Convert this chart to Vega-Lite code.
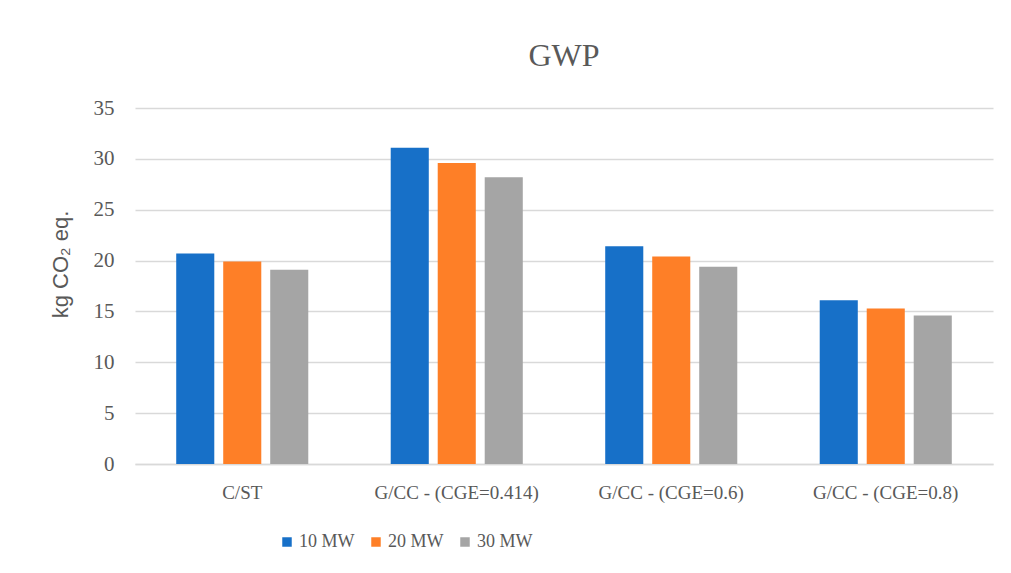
{
  "$schema": "https://vega.github.io/schema/vega-lite/v6.json",
  "width": 858,
  "height": 356,
  "autosize": {"type": "none"},
  "padding": {"left": 135, "top": 108, "right": 18, "bottom": 109},
  "background": "white",
  "title": {
    "text": "GWP",
    "font": "Liberation Serif",
    "fontSize": 32,
    "fontWeight": "normal",
    "color": "#595959",
    "anchor": "middle",
    "offset": 24
  },
  "data": {
    "values": [
      {"category": "C/ST", "series": "10 MW", "value": 20.7},
      {"category": "C/ST", "series": "20 MW", "value": 19.9},
      {"category": "C/ST", "series": "30 MW", "value": 19.1},
      {"category": "G/CC - (CGE=0.414)", "series": "10 MW", "value": 31.1},
      {"category": "G/CC - (CGE=0.414)", "series": "20 MW", "value": 29.6},
      {"category": "G/CC - (CGE=0.414)", "series": "30 MW", "value": 28.2},
      {"category": "G/CC - (CGE=0.6)", "series": "10 MW", "value": 21.4},
      {"category": "G/CC - (CGE=0.6)", "series": "20 MW", "value": 20.4},
      {"category": "G/CC - (CGE=0.6)", "series": "30 MW", "value": 19.4},
      {"category": "G/CC - (CGE=0.8)", "series": "10 MW", "value": 16.1},
      {"category": "G/CC - (CGE=0.8)", "series": "20 MW", "value": 15.3},
      {"category": "G/CC - (CGE=0.8)", "series": "30 MW", "value": 14.6}
    ]
  },
  "mark": {"type": "bar"},
  "encoding": {
    "x": {
      "field": "category",
      "type": "nominal",
      "sort": null,
      "scale": {"paddingInner": 0, "paddingOuter": 0},
      "axis": {
        "title": null,
        "labelAngle": 0,
        "labelFont": "Liberation Serif",
        "labelFontSize": 19,
        "labelLimit": 0,
        "labelColor": "#595959",
        "labelPadding": 19,
        "ticks": false,
        "domain": true,
        "domainColor": "#d9d9d9",
        "domainWidth": 1.5,
        "grid": false
      }
    },
    "xOffset": {
      "field": "series",
      "type": "nominal",
      "sort": null,
      "scale": {"paddingInner": 0.19, "paddingOuter": 0.877}
    },
    "y": {
      "field": "value",
      "type": "quantitative",
      "scale": {"domain": [0, 35], "nice": false},
      "axis": {
        "title": "kg CO₂ eq.",
        "titleFont": "Liberation Sans",
        "titleFontSize": 22,
        "titleFontWeight": "normal",
        "titleColor": "#595959",
        "titleX": -75,
        "titleY": 156,
        "titleAngle": -90,
        "titleAlign": "center",
        "titleBaseline": "middle",
        "values": [0, 5, 10, 15, 20, 25, 30, 35],
        "labelFont": "Liberation Serif",
        "labelFontSize": 21,
        "labelColor": "#595959",
        "labelPadding": 21,
        "ticks": false,
        "domain": false,
        "grid": true,
        "gridColor": "#d9d9d9",
        "gridWidth": 1.5
      }
    },
    "color": {
      "field": "series",
      "type": "nominal",
      "sort": null,
      "scale": {"range": ["#1770c8", "#fe7f27", "#a5a5a5"]},
      "legend": {
        "title": null,
        "orient": "none",
        "direction": "horizontal",
        "legendX": 143,
        "legendY": 425,
        "symbolType": "square",
        "symbolSize": 90,
        "symbolStrokeWidth": 0,
        "labelFont": "Liberation Serif",
        "labelFontSize": 18,
        "labelColor": "#595959",
        "labelOffset": 3,
        "columnPadding": 12
      }
    }
  },
  "config": {
    "view": {"stroke": null}
  }
}
